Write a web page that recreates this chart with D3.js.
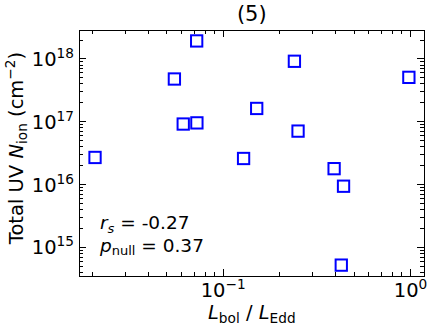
<!DOCTYPE html>
<html>
<head>
<meta charset="utf-8">
<script src="https://cdn.jsdelivr.net/npm/d3@7"></script>
<style>
    body { margin: 0; background: #fff; }
    svg { display: block; font-family: "DejaVu Sans", sans-serif; }
</style>
</head>
<body>
<div id="chart"></div>
<script>
// L_bol / L_Edd for each source
const eddRatio = [0.0722, 0.0549, 0.240, 0.98, 0.151, 0.0612, 0.0724, 0.251, 0.0207, 0.1285, 0.391, 0.439, 0.427];
// total UV N_ion (cm^-2)
const nIon = [1.94e18, 4.8e17, 9.2e17, 5.1e17, 1.63e17, 9.2e16, 9.6e16, 7.1e16, 2.7e16, 2.6e16, 1.79e16, 9.4e15, 5.2e14];

const xDecades = [-1, 0];
const yDecades = [15, 16, 17, 18];
const panelTitle = "(5)";
const statLines = [["r", "s", " = -0.27"], ["p", "null", " = 0.37"]];

class LogScatter {
    constructor(_config) {
        this.config = _config;
        this.InitVis();
    }

    InitVis() {
        const vis = this;

        vis.config.width = 433;
        vis.config.height = 330;
        vis.config.left = 79.3;
        vis.config.right = 424.3;
        vis.config.top = 30;
        vis.config.bottom = 276.3;
        vis.config.fontSize = 19.5;
        vis.config.supSize = 13.7;
        vis.config.titleSize = 21;
        vis.config.statSize = 18.5;

        vis.svg = d3.select(vis.config.parentElement)
            .append("svg")
            .attr("width", vis.config.width)
            .attr("height", vis.config.height);

        vis.x = d3.scaleLog()
            .domain([Math.pow(10, -1.768), Math.pow(10, 0.0736)])
            .range([vis.config.left, vis.config.right]);

        vis.y = d3.scaleLog()
            .domain([Math.pow(10, 14.538), Math.pow(10, 18.462)])
            .range([vis.config.bottom, vis.config.top]);

        vis.UpdateVis();
    }

    // majors are the decades, minors 2..9 inside the domain
    logTicks(scale) {
        const [d0, d1] = scale.domain();
        const lo = Math.floor(Math.log10(d0)), hi = Math.ceil(Math.log10(d1));
        const major = [], minor = [];
        for (let e = lo; e <= hi; e++) {
            const base = Math.pow(10, e);
            if (base >= d0 && base <= d1) major.push(base);
            for (let m = 2; m <= 9; m++) {
                const v = m * base;
                if (v >= d0 && v <= d1) minor.push(v);
            }
        }
        return { major, minor };
    }

    UpdateVis() {
        const vis = this;
        const c = vis.config;
        const majLen = 7, minLen = 4;

        const xt = vis.logTicks(vis.x);
        const yt = vis.logTicks(vis.y);

        const g = vis.svg.append("g")
            .attr("stroke", "#000")
            .attr("stroke-width", 1)
            .attr("shape-rendering", "crispEdges");

        // x ticks, bottom and top, pointing in
        const xTickData = xt.major.map(v => ({ v, len: majLen })).concat(xt.minor.map(v => ({ v, len: minLen })));
        g.selectAll(".xb").data(xTickData).enter().append("line")
            .attr("x1", d => vis.x(d.v)).attr("x2", d => vis.x(d.v))
            .attr("y1", c.bottom).attr("y2", d => c.bottom - d.len);
        g.selectAll(".xt").data(xTickData).enter().append("line")
            .attr("x1", d => vis.x(d.v)).attr("x2", d => vis.x(d.v))
            .attr("y1", c.top).attr("y2", d => c.top + d.len);

        // y ticks, left and right
        const yTickData = yt.major.map(v => ({ v, len: majLen })).concat(yt.minor.map(v => ({ v, len: minLen })));
        g.selectAll(".yl").data(yTickData).enter().append("line")
            .attr("y1", d => vis.y(d.v)).attr("y2", d => vis.y(d.v))
            .attr("x1", c.left).attr("x2", d => c.left + d.len);
        g.selectAll(".yr").data(yTickData).enter().append("line")
            .attr("y1", d => vis.y(d.v)).attr("y2", d => vis.y(d.v))
            .attr("x1", c.right).attr("x2", d => c.right - d.len);

        // frame
        vis.svg.append("rect")
            .attr("x", c.left).attr("y", c.top)
            .attr("width", c.right - c.left).attr("height", c.bottom - c.top)
            .attr("fill", "none").attr("stroke", "#000").attr("stroke-width", 1)
            .attr("shape-rendering", "crispEdges");

        // x tick labels
        const xl = vis.svg.selectAll(".xlab").data(xDecades).enter().append("text")
            .attr("x", d => vis.x(Math.pow(10, d)))
            .attr("y", 296.5)
            .attr("text-anchor", "middle")
            .attr("font-size", c.fontSize);
        xl.append("tspan").text("10");
        xl.append("tspan").attr("dy", -8).attr("font-size", c.supSize)
            .text(d => String(d).replace("-", "\u2212"));

        // y tick labels
        const yl = vis.svg.selectAll(".ylab").data(yDecades).enter().append("text")
            .attr("x", 74)
            .attr("y", d => vis.y(Math.pow(10, d)) + 7)
            .attr("text-anchor", "end")
            .attr("font-size", c.fontSize);
        yl.append("tspan").text("10");
        yl.append("tspan").attr("dy", -8).attr("font-size", c.supSize).text(d => d);

        // points
        const pts = eddRatio.map((v, i) => ({ x: v, y: nIon[i] }));
        const s = 11.3;
        vis.svg.selectAll(".pt").data(pts).enter().append("rect")
            .attr("x", d => vis.x(d.x) - s / 2)
            .attr("y", d => vis.y(d.y) - s / 2)
            .attr("width", s).attr("height", s)
            .attr("fill", "none")
            .attr("stroke", "#0000ff")
            .attr("stroke-width", 2);

        // title
        vis.svg.append("text")
            .attr("x", (c.left + c.right) / 2)
            .attr("y", 21)
            .attr("text-anchor", "middle")
            .attr("font-size", c.titleSize)
            .text(panelTitle);

        // x label
        const xLab = vis.svg.append("text")
            .attr("x", (c.left + c.right) / 2)
            .attr("y", 319)
            .attr("text-anchor", "middle")
            .attr("font-size", c.fontSize);
        xLab.append("tspan").attr("font-style", "italic").text("L");
        xLab.append("tspan").attr("dy", 4).attr("font-size", c.supSize).text("bol");
        xLab.append("tspan").attr("dy", -4).text(" / ");
        xLab.append("tspan").attr("font-style", "italic").text("L");
        xLab.append("tspan").attr("dy", 4).attr("font-size", c.supSize).text("Edd");

        // y label
        const yLab = vis.svg.append("text")
            .attr("transform", "translate(23,148) rotate(-90)")
            .attr("text-anchor", "middle")
            .attr("font-size", c.fontSize);
        yLab.append("tspan").text("Total UV ");
        yLab.append("tspan").attr("font-style", "italic").text("N");
        yLab.append("tspan").attr("dy", 4).attr("font-size", c.supSize).text("ion");
        yLab.append("tspan").attr("dy", -4).text(" (cm");
        yLab.append("tspan").attr("dy", -8).attr("font-size", c.supSize).text("\u22122");
        yLab.append("tspan").attr("dy", 8).text(")");

        // correlation stats
        statLines.forEach((ln, i) => {
            const t = vis.svg.append("text")
                .attr("x", 100)
                .attr("y", 229 + i * 22.7)
                .attr("font-size", c.statSize);
            t.append("tspan").attr("font-style", "italic").text(ln[0]);
            t.append("tspan").attr("dy", 3.5).attr("font-size", 13)
                .attr("font-style", i === 0 ? "italic" : "normal").text(ln[1]);
            t.append("tspan").attr("dy", -3.5).text(ln[2]);
        });
    }
}

new LogScatter({ parentElement: "#chart" });
</script>
</body>
</html>
